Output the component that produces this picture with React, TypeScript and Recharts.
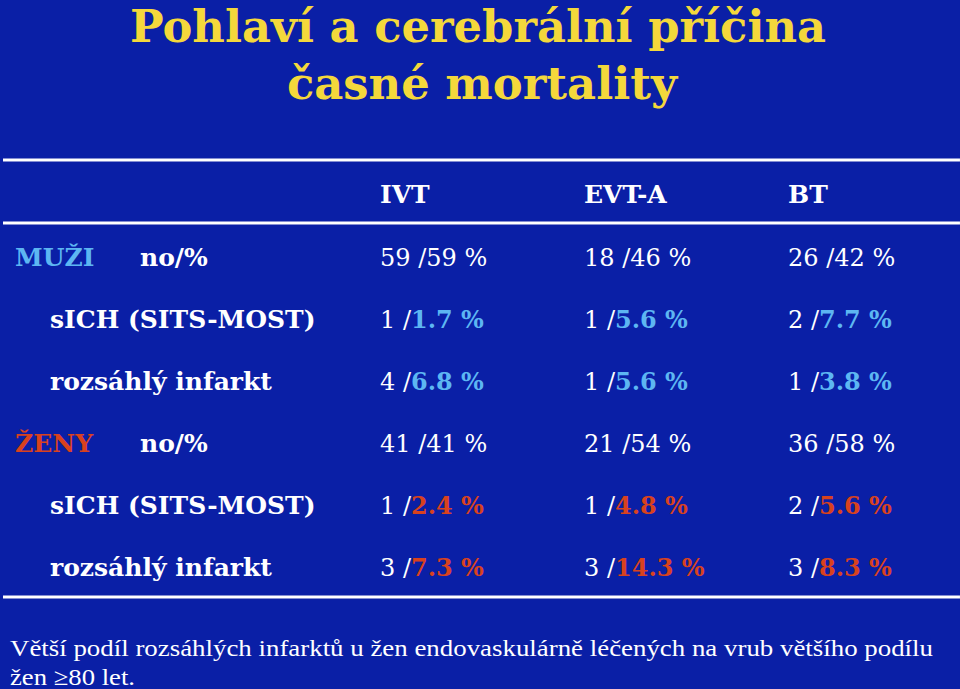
import React from 'react';
import { ScatterChart, Scatter, XAxis, YAxis, ReferenceLine } from 'recharts';

// ---- data ----
const titleLines = ['Pohlaví a cerebrální příčina', 'časné mortality'];
const columns = ['IVT', 'EVT-A', 'BT'];
const groups = ['MUŽI', 'ŽENY'];
const rowGroup = [0, 0, 0, 1, 1, 1];
const rowLabels = ['no/%', 'sICH (SITS-MOST)', 'rozsáhlý infarkt', 'no/%', 'sICH (SITS-MOST)', 'rozsáhlý infarkt'];
const isTotalRow = [true, false, false, true, false, false];
const ivtCounts = [59, 1, 4, 41, 1, 3];
const ivtPct = [59, 1.7, 6.8, 41, 2.4, 7.3];
const evtCounts = [18, 1, 1, 21, 1, 3];
const evtPct = [46, 5.6, 5.6, 54, 4.8, 14.3];
const btCounts = [26, 2, 1, 36, 2, 3];
const btPct = [42, 7.7, 3.8, 58, 5.6, 8.3];
const footerLines = [
  'Větší podíl rozsáhlých infarktů u žen endovaskulárně léčených na vrub většího podílu',
  'žen ≥80 let.',
];

// ---- styles ----
const BG = '#0a1fa6';
const YELLOW = '#f4d83b';
const groupColors = ['#5db6f2', '#d8421e'];
const SERIF = "'DejaVu Serif', Georgia, serif";
const FOOT_FONT = "'Liberation Serif', 'Times New Roman', serif";

const seriesCounts = [ivtCounts, evtCounts, btCounts];
const seriesPct = [ivtPct, evtPct, btPct];

const cellData = columns.map((_, ci) =>
  rowLabels.map((__, ri) => ({ col: ci, row: ri, n: seriesCounts[ci][ri], pct: seriesPct[ci][ri] }))
);
const headerData = columns.map((name, ci) => ({ col: ci, row: -1, name }));
const ruleRows = [-1.554, -0.54, 5.483];
const ruleSpan = [-1.848, 2.843];

const CellShape = (props: any) => {
  const { cx, cy, payload } = props;
  const total = isTotalRow[payload.row];
  const color = groupColors[rowGroup[payload.row]];
  const pctText = total ? String(payload.pct) : payload.pct.toFixed(1);
  return (
    <text x={cx} y={cy} dy={9} fontSize={24} fontFamily={SERIF} fill="#ffffff">
      <tspan>{payload.n} /</tspan>
      <tspan fontWeight={total ? 'normal' : 'bold'} fill={total ? '#ffffff' : color}>
        {pctText} %
      </tspan>
    </text>
  );
};

const HeaderShape = (props: any) => {
  const { cx, cy, payload } = props;
  return (
    <text x={cx} y={cy} dy={9} fontSize={25} fontWeight="bold" fontFamily={SERIF} fill="#ffffff">
      {payload.name}
    </text>
  );
};

const RowTick = (props: any) => {
  const { x, y, payload } = props;
  const ri = payload.value as number;
  const isGroupRow = isTotalRow[ri];
  return (
    <g>
      {isGroupRow && (
        <text x={x - 365} y={y} dy={9} textAnchor="start" fontSize={25} fontWeight="bold" fontFamily={SERIF} fill={groupColors[rowGroup[ri]]}>
          {groups[rowGroup[ri]]}
        </text>
      )}
      <text x={x - (isGroupRow ? 240 : 330)} y={y} dy={9} textAnchor="start" fontSize={25} fontWeight="bold" fontFamily={SERIF} fill="#ffffff">
        {rowLabels[ri]}
      </text>
    </g>
  );
};

export default function App() {
  return (
    <div style={{ position: 'fixed', left: 0, top: 0, width: 960, height: 689, background: BG, overflow: 'hidden' }}>
      <ScatterChart width={960} height={689} margin={{ top: 160, right: 172, bottom: 92, left: 3 }}>
        <XAxis type="number" dataKey="col" domain={[0, 2]} hide />
        <YAxis
          type="number"
          dataKey="row"
          domain={[-1.554, 5.483]}
          reversed
          width={377}
          ticks={[0, 1, 2, 3, 4, 5]}
          interval={0}
          tickSize={0}
          tickMargin={0}
          axisLine={false}
          tickLine={false}
          tick={<RowTick />}
        />
        {ruleRows.map((r) => (
          <ReferenceLine
            key={r}
            segment={[{ x: ruleSpan[0], y: r }, { x: ruleSpan[1], y: r }]}
            stroke="#ffffff"
            strokeWidth={3}
            ifOverflow="visible"
          />
        ))}
        <Scatter data={headerData} shape={<HeaderShape />} isAnimationActive={false} />
        {cellData.map((d, i) => (
          <Scatter key={columns[i]} data={d} shape={<CellShape />} isAnimationActive={false} />
        ))}
        <text x={478} y={42} textAnchor="middle" fontSize={45} fontWeight="bold" fontFamily={SERIF} fill={YELLOW} textLength={696} lengthAdjust="spacingAndGlyphs">
          {titleLines[0]}
        </text>
        <text x={482} y={99} textAnchor="middle" fontSize={45} fontWeight="bold" fontFamily={SERIF} fill={YELLOW} textLength={390} lengthAdjust="spacingAndGlyphs">
          {titleLines[1]}
        </text>
        <text x={10} y={656} fontSize={24} fontFamily={FOOT_FONT} fill="#ffffff" textLength={923} lengthAdjust="spacingAndGlyphs">
          {footerLines[0]}
        </text>
        <text x={10} y={685} fontSize={24} fontFamily={FOOT_FONT} fill="#ffffff" textLength={125} lengthAdjust="spacingAndGlyphs">
          {footerLines[1]}
        </text>
      </ScatterChart>
    </div>
  );
}
